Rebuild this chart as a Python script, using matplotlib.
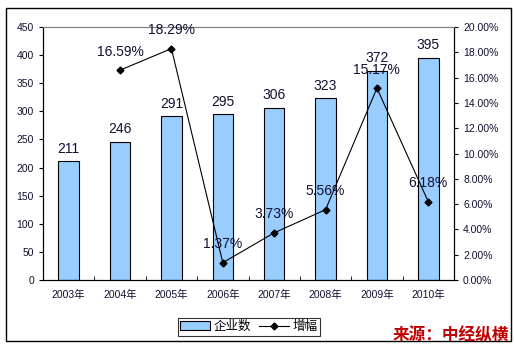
import matplotlib
matplotlib.use("Agg")
import matplotlib.pyplot as plt
from matplotlib.lines import Line2D
from matplotlib.patches import Patch, Rectangle
from matplotlib.ticker import FuncFormatter, MultipleLocator

plt.rcParams['font.family'] = ['Liberation Sans', 'Noto Sans CJK SC', 'DejaVu Sans']

# 企业数量与增幅
years = ['2003年', '2004年', '2005年', '2006年', '2007年', '2008年', '2009年', '2010年']
counts = [211, 246, 291, 295, 306, 323, 372, 395]
growth_years = ['2004年', '2005年', '2006年', '2007年', '2008年', '2009年', '2010年']
growth = [16.59, 18.29, 1.37, 3.73, 5.56, 15.17, 6.18]

W, H = 515, 349
fig = plt.figure(figsize=(W / 100, H / 100), dpi=100)

# 外框
fig.patches.append(Rectangle((6 / W, 1 - 341 / H), 505 / W, 333 / H,
                             transform=fig.transFigure, fill=False,
                             edgecolor='black', linewidth=1.0))

ax = fig.add_axes([43 / W, 1 - 280 / H, 411 / W, 253 / H])
x = list(range(len(years)))
ax.bar(x, counts, width=0.4, color='#99ccff', edgecolor='black', linewidth=0.8, zorder=2)
for xi, v in zip(x, counts):
    ax.text(xi, v + 10, str(v), ha='center', va='bottom', fontsize=10, color='#111133')

ax.set_xlim(-0.5, len(years) - 0.5)
ax.set_ylim(0, 450)
ax.yaxis.set_major_locator(MultipleLocator(50))
ax.set_xticks(x)
ax.set_xticklabels(years, fontsize=7.5, color='#111133')
ax.set_xticks([i + 0.5 for i in x[:-1]], minor=True)
ax.tick_params(axis='x', which='major', length=0, pad=7)
ax.tick_params(axis='x', which='minor', length=3, direction='in')
ax.tick_params(axis='y', labelsize=7.5, length=3, direction='out', colors='black', labelcolor='#111133')
ax.spines['top'].set_color('#808080')
for s in ('left', 'bottom', 'right'):
    ax.spines[s].set_color('black')

ax2 = ax.twinx()
gx = [years.index(y) for y in growth_years]
ax2.plot(gx, growth, color='black', linewidth=0.8, marker='D', markersize=3.5, zorder=3)
for xi, v in zip(gx, growth):
    ax2.text(xi, v + 0.9, f'{v:.2f}%', ha='center', va='bottom', fontsize=10, color='#111133')
ax2.set_ylim(0, 20)
ax2.yaxis.set_major_locator(MultipleLocator(2))
ax2.yaxis.set_major_formatter(FuncFormatter(lambda v, p: f'{v:.2f}%'))
ax2.tick_params(axis='y', labelsize=7.5, length=3, direction='out', labelcolor='#111133')
ax2.spines['top'].set_color('#808080')

handles = [Patch(facecolor='#99ccff', edgecolor='black', linewidth=0.8),
           Line2D([], [], color='black', linewidth=0.8, marker='D', markersize=3.5)]
leg = fig.legend(handles, ['企业数', '增幅'], loc='center',
                 bbox_to_anchor=(249 / W, 1 - 327 / H), ncol=2, fontsize=9,
                 frameon=True, fancybox=False, edgecolor='black',
                 handlelength=2.4, handletextpad=0.3, columnspacing=0.6,
                 borderpad=0.2)
leg.get_frame().set_linewidth(0.8)

fig.text(451 / W, 1 - 335 / H, '来源：中经纵横', ha='center', va='center',
         fontsize=12, color='#c00000', fontweight='bold',
         family=['Noto Sans CJK SC'])

fig.savefig('out.png', dpi=100)
